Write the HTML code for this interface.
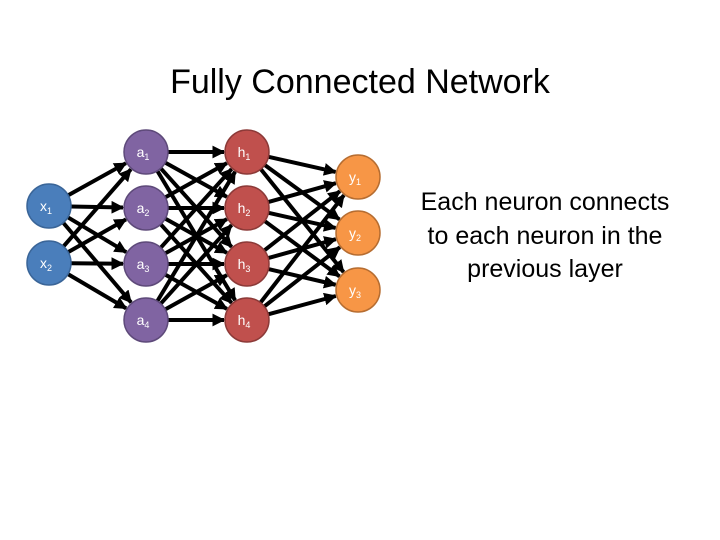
<!DOCTYPE html>
<html><head><meta charset="utf-8"><style>
html,body{margin:0;padding:0;background:#fff;}
svg{display:block;}
</style></head><body>
<svg width="720" height="540" xmlns="http://www.w3.org/2000/svg" font-family="Liberation Sans, Arial, sans-serif">
<defs>
<marker id="ar" viewBox="0 0 10 10" refX="9" refY="5" markerWidth="3.2" markerHeight="3.2" orient="auto" markerUnits="strokeWidth">
<path d="M0,0 L10,5 L0,10 z" fill="#000"/></marker>
</defs>
<text x="360" y="93" font-size="34" text-anchor="middle" fill="#000">Fully Connected Network</text>
<g font-size="25" text-anchor="middle" fill="#000">
<text x="545" y="210">Each neuron connects</text>
<text x="545" y="244">to each neuron in the</text>
<text x="545" y="277">previous layer</text>
</g>
<g id="edges" stroke="#000" stroke-width="4" marker-end="url(#ar)"></g>
<g id="nodes"></g>
<script>
var L=[{x:49,ys:[206,263],c:"#4a7ebb",s:"#3a6598",n:"x"},
{x:146,ys:[152,208,264,320],c:"#8064a2",s:"#5e4a7a",n:"a"},
{x:247,ys:[152,208,264,320],c:"#c0504d",s:"#8c3a38",n:"h"},
{x:358,ys:[177,233,290],c:"#f79646",s:"#b66d31",n:"y"}];
var r=22,ns="http://www.w3.org/2000/svg",E=document.getElementById("edges"),N=document.getElementById("nodes");
for(var i=0;i<3;i++){var A=L[i],B=L[i+1];A.ys.forEach(function(y1){B.ys.forEach(function(y2){
var dx=B.x-A.x,dy=y2-y1,d=Math.sqrt(dx*dx+dy*dy),ux=dx/d,uy=dy/d;
var l=document.createElementNS(ns,"line");
l.setAttribute("x1",A.x+ux*r);l.setAttribute("y1",y1+uy*r);
l.setAttribute("x2",B.x-ux*(r+1));l.setAttribute("y2",y2-uy*(r+1));E.appendChild(l);});});}
L.forEach(function(A){A.ys.forEach(function(y,k){
var c=document.createElementNS(ns,"circle");c.setAttribute("cx",A.x);c.setAttribute("cy",y);c.setAttribute("r",r);
c.setAttribute("fill",A.c);c.setAttribute("stroke",A.s);c.setAttribute("stroke-width","1.5");N.appendChild(c);
var t=document.createElementNS(ns,"text");t.setAttribute("x",A.x-3);t.setAttribute("y",y+5);t.setAttribute("font-size","14");
t.setAttribute("text-anchor","middle");t.setAttribute("fill","#fff");t.textContent=A.n;
var s=document.createElementNS(ns,"tspan");s.setAttribute("font-size","9");s.setAttribute("dy","3");s.textContent=String(k+1);t.appendChild(s);N.appendChild(t);});});
</script>
</svg>
</body></html>
